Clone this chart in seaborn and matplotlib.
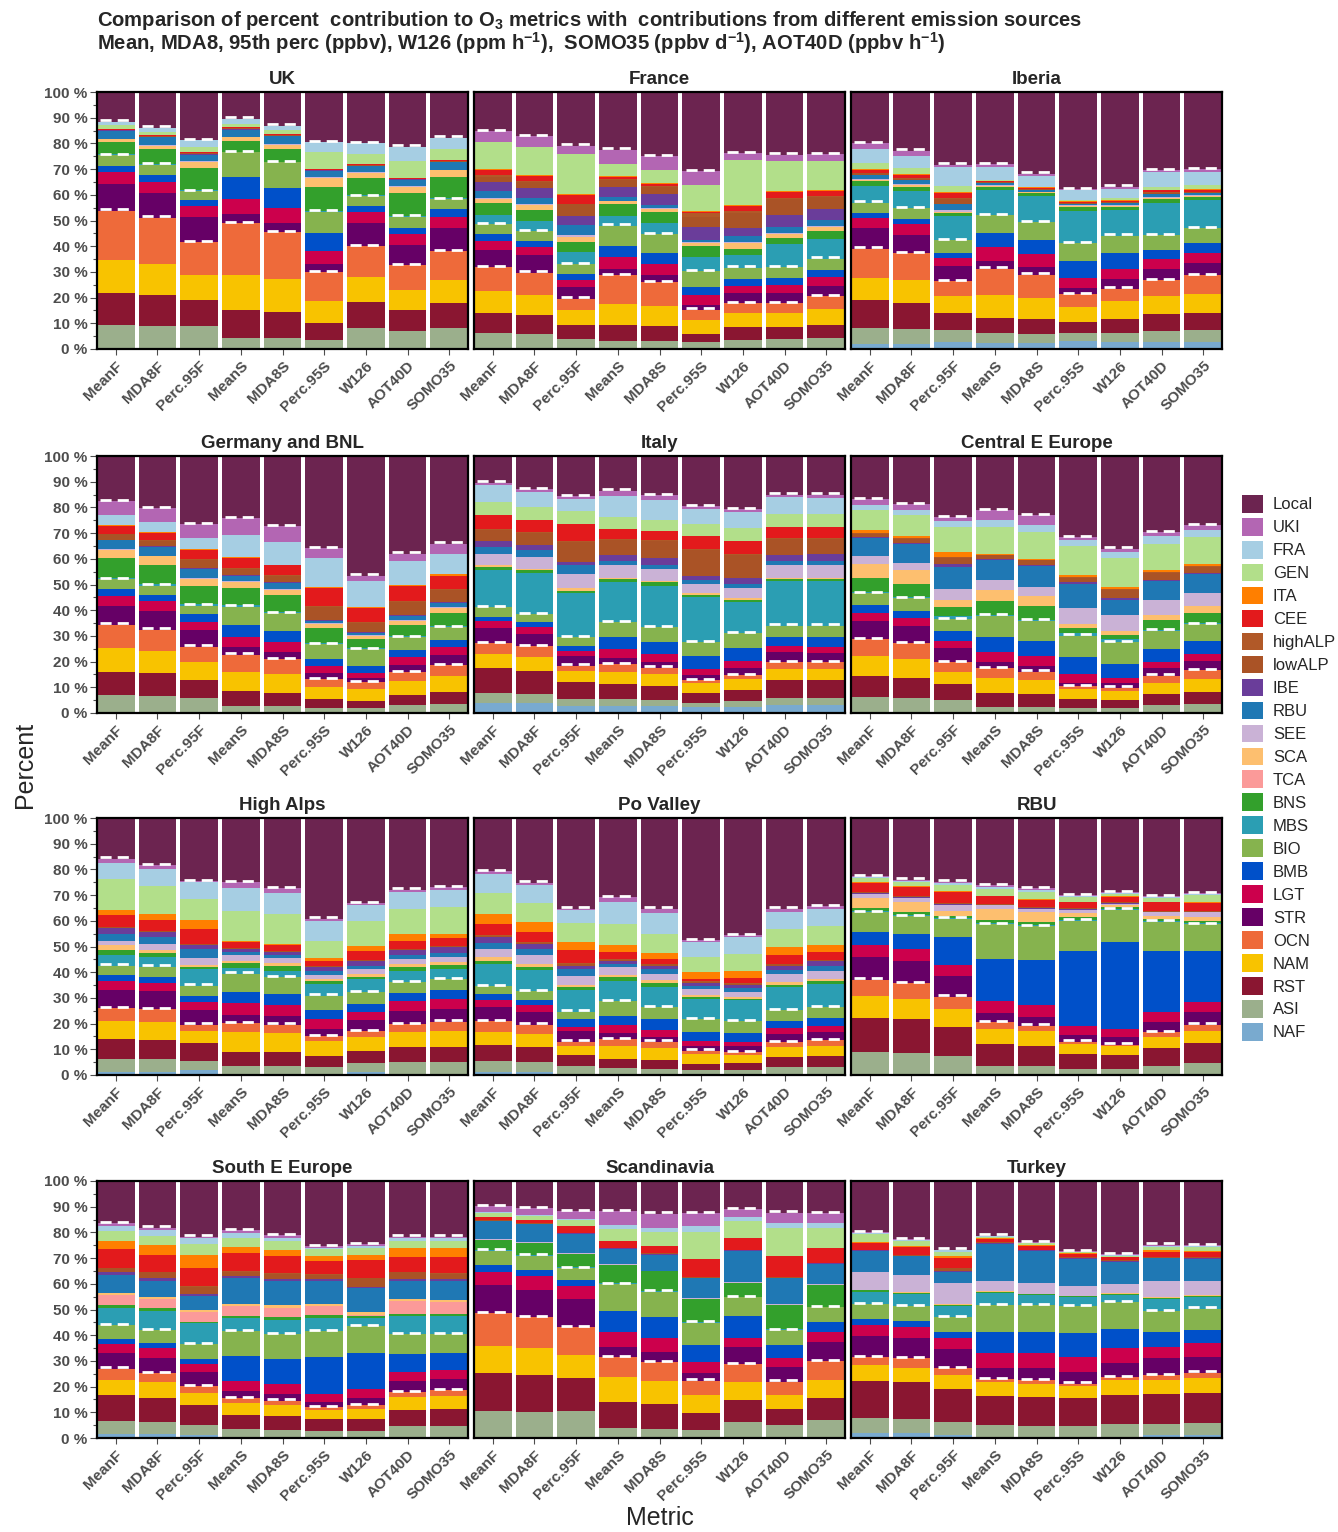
import numpy as np
import pandas as pd
import matplotlib
matplotlib.use("Agg")
import matplotlib.pyplot as plt
from matplotlib.patches import Patch
from matplotlib.ticker import MultipleLocator
import seaborn as sns

metrics = ["MeanF", "MDA8F", "Perc.95F", "MeanS", "MDA8S", "Perc.95S", "W126", "AOT40D", "SOMO35"]

# Emission sources from the bottom of each stack upwards; "Local" fills the rest up to 100 %
sources = ["NAF", "ASI", "RST", "NAM", "OCN", "STR", "LGT", "BMB", "BIO", "MBS", "BNS",
           "TCA", "SCA", "SEE", "RBU", "IBE", "lowALP", "highALP", "CEE", "ITA", "GEN", "FRA", "UKI"]

# One row per metric, one column per source (percent contribution)
uk = [
    [0, 9.4, 12.5, 12.9, 19.0, 10.3, 4.7, 2.5, 4.2, 0.3, 4.6, 0, 1.3, 0.2, 3.0, 0.2, 0.2, 0, 0.3, 0, 1.4, 1.5, 0],
    [0, 8.9, 12.0, 12.3, 17.9, 9.5, 4.5, 2.7, 3.9, 0.3, 5.8, 0, 1.3, 0.2, 3.1, 0.2, 0.2, 0, 0.3, 0, 1.4, 1.6, 0],
    [0, 8.9, 10.3, 9.5, 13.0, 9.8, 4.3, 2.2, 3.5, 0.3, 8.6, 0, 2.4, 0.3, 2.5, 0.3, 0.2, 0, 0.4, 0, 2.0, 2.8, 0],
    [0, 4.2, 11.1, 13.4, 20.2, 3.6, 5.8, 8.5, 9.7, 0.3, 4.0, 0, 1.6, 0.2, 2.8, 0.2, 0.2, 0, 0.4, 0, 1.2, 2.2, 0],
    [0, 4.2, 10.1, 13.1, 18.2, 3.6, 5.8, 7.8, 9.8, 0.3, 4.9, 0, 1.7, 0.2, 3.1, 0.2, 0.2, 0, 0.3, 0, 1.6, 1.8, 0],
    [0, 3.5, 6.7, 8.3, 11.5, 3.2, 5.0, 7.0, 8.3, 0.3, 9.2, 0, 3.5, 0.4, 2.5, 0.2, 0.2, 0, 0.3, 0, 6.6, 3.9, 0],
    [0, 8.1, 10.2, 9.7, 12.0, 9.2, 4.3, 2.3, 3.8, 0.3, 6.6, 0, 1.9, 0.3, 2.4, 0.2, 0.2, 0, 0.3, 0, 4.2, 4.1, 0],
    [0, 6.9, 8.4, 7.5, 9.8, 7.8, 4.3, 2.5, 4.3, 0.3, 8.8, 0, 2.6, 0.3, 2.3, 0.2, 0.2, 0, 0.5, 0, 6.4, 5.6, 0],
    [0, 8.1, 9.9, 8.7, 11.5, 8.7, 4.6, 2.9, 3.9, 0.3, 8.5, 0, 2.4, 0.3, 2.9, 0.2, 0.2, 0, 0.5, 0, 4.3, 4.3, 0],
]

france = [
    [0.2, 5.9, 8.0, 8.3, 9.5, 6.8, 3.4, 2.6, 3.9, 3.6, 4.5, 0, 1.6, 0.3, 2.9, 3.5, 2.1, 0.5, 2.2, 0.4, 10.2, 0, 4.3],
    [0.2, 5.7, 7.5, 7.7, 8.6, 6.8, 3.3, 2.2, 3.9, 3.9, 4.3, 0, 2.0, 0.3, 2.5, 3.7, 2.5, 0.3, 2.1, 0.3, 10.8, 0, 4.2],
    [0.2, 3.7, 5.6, 5.5, 4.6, 4.5, 2.6, 2.6, 3.7, 4.8, 3.9, 0, 2.0, 0.5, 4.0, 3.6, 4.5, 0.3, 3.4, 0.4, 15.6, 0, 3.1],
    [0.2, 3.1, 6.1, 8.2, 11.1, 2.6, 4.6, 4.3, 7.8, 3.8, 4.7, 0, 0.9, 0.3, 1.6, 3.9, 2.6, 0.4, 0.9, 0.4, 4.5, 0, 5.6],
    [0.2, 3.1, 5.6, 7.8, 9.4, 2.6, 4.3, 4.4, 7.3, 4.2, 4.6, 0, 0.9, 0.3, 1.4, 4.3, 2.8, 0.4, 0.7, 0.4, 4.8, 0, 5.5],
    [0.2, 2.4, 3.3, 5.2, 4.2, 2.0, 3.6, 3.2, 6.1, 5.7, 4.1, 0, 1.3, 0.5, 0.6, 5.2, 3.9, 1.3, 0.5, 0.3, 10.2, 0, 5.3],
    [0.2, 3.3, 5.0, 5.6, 3.8, 4.0, 2.5, 2.8, 4.5, 4.9, 2.5, 0, 2.0, 0.5, 2.3, 3.0, 6.2, 0.5, 2.1, 0.5, 17.5, 0, 2.6],
    [0.2, 3.5, 5.0, 5.4, 3.8, 4.0, 2.9, 2.8, 4.3, 8.9, 2.5, 0, 1.6, 0.4, 2.3, 4.6, 6.1, 0.4, 2.2, 0.4, 12.0, 0, 2.3],
    [0.2, 4.1, 5.2, 6.1, 4.9, 4.0, 3.5, 2.9, 4.3, 7.5, 3.2, 0, 1.6, 0.4, 2.2, 4.2, 5.0, 0.4, 1.8, 0.4, 11.1, 0, 2.9],
]

iberia = [
    [2.0, 6.2, 10.7, 8.9, 11.3, 7.8, 3.9, 2.0, 4.2, 6.5, 1.7, 0, 0.5, 0.5, 1.6, 0, 0.5, 0.3, 1.2, 0.3, 2.3, 5.4, 2.4],
    [1.9, 5.9, 10.2, 8.7, 10.5, 7.1, 4.2, 2.1, 4.2, 6.7, 1.7, 0, 0.5, 0.5, 1.6, 0, 0.5, 0.3, 1.2, 0.3, 2.3, 4.6, 2.2],
    [2.6, 4.8, 6.7, 6.4, 5.8, 5.9, 3.4, 1.9, 4.9, 9.5, 0.9, 0, 0.6, 0.5, 2.6, 0, 1.8, 0.3, 2.0, 0.5, 2.4, 7.3, 0.9],
    [2.2, 3.9, 6.0, 9.0, 10.2, 2.9, 5.3, 5.5, 7.2, 9.7, 1.3, 0, 0.3, 0.3, 0.7, 0, 0.3, 0.2, 0.3, 0.2, 0.3, 5.2, 0.9],
    [2.2, 3.7, 5.6, 8.4, 9.0, 3.0, 4.9, 5.6, 7.1, 10.1, 1.0, 0, 0.3, 0.3, 0.7, 0, 0.3, 0.2, 0.3, 0.2, 0.3, 4.0, 1.0],
    [3.3, 3.0, 4.1, 5.9, 5.0, 2.6, 3.9, 6.4, 7.1, 12.4, 1.7, 0, 0.3, 0.3, 0.5, 0, 0.3, 0.2, 0.3, 0.2, 0.3, 3.9, 0.6],
    [2.6, 3.5, 5.6, 6.8, 5.0, 3.6, 3.9, 6.2, 6.9, 10.0, 1.3, 0, 0.3, 0.3, 0.7, 0, 0.4, 0.2, 0.4, 0.2, 0.7, 3.7, 0.9],
    [2.9, 4.0, 6.8, 6.8, 6.2, 4.6, 3.6, 3.8, 5.6, 12.7, 1.3, 0, 0.4, 0.4, 1.2, 0, 0.4, 0.2, 0.8, 0.3, 1.2, 5.6, 0.9],
    [2.9, 4.3, 6.9, 7.2, 7.4, 4.8, 4.0, 3.8, 5.6, 11.1, 1.1, 0, 0.4, 0.4, 0.7, 0, 0.4, 0.2, 0.8, 0.3, 1.5, 5.2, 0.9],
]

germany_bnl = [
    [0, 6.9, 9.1, 9.1, 9.3, 7.4, 3.6, 2.9, 3.9, 0.5, 7.6, 0, 3.2, 0.3, 3.4, 0.3, 2.0, 0.3, 2.9, 0.3, 0, 4.0, 5.4],
    [0, 6.6, 8.8, 8.8, 8.2, 7.4, 3.6, 2.7, 3.5, 0.5, 7.6, 0, 3.2, 0.3, 3.4, 0.3, 2.0, 0.3, 2.9, 0.3, 0, 3.9, 5.3],
    [0, 6.0, 7.0, 6.9, 5.9, 6.5, 3.0, 3.2, 3.3, 0.5, 7.0, 0, 2.9, 0.4, 3.5, 0.5, 2.8, 0.4, 3.5, 0.4, 0, 4.5, 5.2],
    [0, 2.7, 5.9, 7.5, 6.6, 2.8, 3.9, 4.8, 7.2, 0.5, 6.7, 0, 2.3, 0.4, 2.0, 0.4, 2.4, 0.3, 3.9, 0.3, 0, 8.5, 6.6],
    [0, 2.7, 5.2, 7.2, 5.9, 2.6, 3.9, 4.5, 6.8, 0.5, 6.8, 0, 1.9, 0.4, 2.1, 0.4, 2.6, 0.3, 3.6, 0.3, 0, 8.8, 6.2],
    [0, 2.1, 3.2, 5.0, 2.9, 2.2, 2.7, 3.1, 5.6, 0.5, 5.8, 0, 1.5, 0.4, 0.9, 0.4, 5.1, 0.4, 7.0, 0.4, 0, 11.1, 3.8],
    [0, 1.8, 2.9, 4.8, 2.6, 1.7, 1.6, 3.0, 6.5, 0.5, 3.4, 0, 1.3, 0.4, 0.6, 0.4, 3.6, 0.4, 5.5, 0.4, 0, 9.8, 2.3],
    [0, 3.0, 3.9, 5.6, 3.3, 2.8, 3.0, 2.9, 4.9, 0.5, 4.3, 0, 1.7, 0.4, 1.6, 0.4, 4.8, 0.4, 6.1, 0.4, 0, 9.0, 3.0],
    [0, 3.6, 4.7, 6.2, 4.1, 3.9, 3.0, 3.0, 4.8, 0.5, 5.1, 0, 2.0, 0.4, 1.4, 0.4, 4.8, 0.4, 5.2, 0.4, 0, 8.1, 3.9],
]

italy = [
    [4.0, 3.9, 9.5, 5.5, 4.3, 5.7, 2.8, 1.5, 3.9, 14.4, 1.3, 0, 0.6, 4.6, 2.6, 2.3, 4.2, 0.4, 5.5, 0, 5.2, 6.5, 0.9],
    [3.8, 3.5, 9.1, 5.2, 4.3, 4.8, 2.6, 2.0, 3.2, 15.9, 1.1, 0, 0.5, 4.7, 2.6, 1.9, 4.8, 0.4, 4.6, 0, 5.1, 5.8, 1.1],
    [2.7, 2.6, 6.9, 4.2, 2.0, 3.6, 2.2, 1.7, 3.5, 17.2, 0.8, 0, 1.3, 5.5, 3.2, 1.3, 7.8, 0.5, 6.4, 0, 5.2, 4.7, 1.1],
    [2.7, 2.6, 5.9, 4.8, 3.0, 2.4, 3.5, 4.5, 5.9, 15.6, 1.3, 0, 0.5, 4.7, 1.6, 2.3, 6.1, 0.4, 3.9, 0, 4.6, 8.2, 2.0],
    [2.7, 2.4, 5.4, 4.6, 2.6, 2.0, 3.2, 4.6, 5.8, 16.3, 1.3, 0, 0.5, 4.7, 1.3, 2.9, 6.6, 0.4, 3.4, 0, 4.3, 7.8, 2.0],
    [2.3, 1.7, 3.9, 3.7, 1.2, 1.9, 2.4, 5.2, 5.2, 17.6, 0.9, 0, 0.5, 3.8, 1.5, 1.7, 10.0, 0.5, 4.8, 0, 4.9, 5.5, 1.3],
    [2.3, 2.4, 4.2, 4.3, 1.6, 2.9, 2.6, 4.8, 5.9, 12.1, 1.0, 0, 0.5, 4.1, 1.6, 2.3, 8.9, 0.5, 4.9, 0, 5.0, 6.5, 1.0],
    [3.0, 3.0, 6.8, 4.3, 2.8, 3.7, 2.6, 3.2, 4.6, 17.2, 1.0, 0, 0.5, 4.7, 1.7, 2.2, 6.5, 0.4, 4.2, 0, 4.9, 6.6, 1.1],
    [3.0, 3.0, 6.8, 4.3, 2.8, 3.3, 2.6, 3.6, 4.6, 17.2, 1.0, 0, 0.5, 4.7, 1.7, 2.6, 6.1, 0.4, 4.2, 0, 4.9, 6.4, 1.3],
]

central_e_europe = [
    [0, 6.4, 8.1, 7.5, 6.8, 6.9, 3.2, 3.2, 4.5, 0.4, 5.5, 0, 5.6, 2.8, 7.3, 0.4, 1.2, 0.3, 0, 1.0, 7.8, 2.1, 2.2],
    [0, 6.0, 7.8, 7.2, 6.1, 6.6, 3.1, 3.0, 4.9, 0.4, 5.2, 0, 5.2, 2.8, 7.3, 0.4, 1.8, 0.3, 0, 0.7, 8.2, 1.9, 2.4],
    [0, 4.9, 6.3, 4.9, 3.6, 5.4, 2.8, 4.1, 4.6, 1.3, 3.2, 0, 2.9, 4.3, 8.5, 1.3, 2.3, 0.3, 0, 1.9, 9.8, 2.3, 1.6],
    [0, 2.5, 5.2, 6.1, 3.6, 2.3, 3.9, 5.8, 8.5, 0.4, 5.2, 0, 4.2, 3.9, 7.8, 0.4, 1.5, 0.3, 0, 0.4, 10.4, 2.6, 3.8],
    [0, 2.5, 4.8, 5.5, 3.3, 2.3, 3.9, 5.6, 8.0, 0.4, 5.2, 0, 4.2, 3.5, 8.0, 0.4, 1.8, 0.3, 0, 0.3, 10.4, 2.6, 3.9],
    [0, 2.1, 3.2, 3.9, 1.3, 1.3, 3.3, 6.5, 8.5, 1.0, 2.0, 0, 1.5, 6.3, 9.4, 0.5, 1.8, 0.3, 0, 0.9, 11.1, 2.6, 1.0],
    [0, 1.8, 3.1, 3.7, 1.3, 1.9, 2.0, 5.2, 8.5, 1.3, 1.7, 0, 1.5, 6.2, 5.9, 0.5, 3.3, 0.4, 0, 0.7, 11.4, 2.2, 1.3],
    [0, 3.1, 4.2, 4.5, 2.7, 2.9, 2.5, 5.0, 7.1, 0.4, 3.8, 0, 2.1, 5.5, 7.4, 0.4, 2.8, 0.3, 0, 1.1, 10.0, 2.9, 1.6],
    [0, 3.4, 4.9, 5.1, 3.3, 3.4, 2.8, 5.0, 6.7, 0.4, 3.8, 0, 3.0, 4.8, 7.6, 0.4, 2.4, 0.3, 0, 0.8, 10.4, 2.6, 1.9],
]

high_alps = [
    [1.3, 4.9, 7.8, 7.2, 4.8, 7.1, 3.4, 2.5, 3.6, 4.2, 2.0, 0, 1.6, 1.9, 2.6, 2.4, 0.4, 0, 4.4, 2.2, 12.1, 6.2, 1.6],
    [1.3, 4.9, 7.4, 7.2, 4.7, 7.0, 3.3, 2.5, 3.9, 3.6, 1.7, 0, 1.3, 2.1, 2.7, 2.2, 0.4, 0, 4.3, 2.2, 10.8, 6.5, 1.6],
    [1.9, 3.7, 6.7, 5.0, 2.3, 5.5, 3.2, 2.6, 3.9, 6.5, 0.6, 0, 1.0, 2.6, 3.6, 1.5, 0.5, 0, 5.8, 3.6, 7.8, 6.8, 0.4],
    [0.3, 3.3, 5.5, 7.5, 3.5, 3.4, 4.6, 4.1, 7.2, 2.2, 2.0, 0, 0.9, 2.0, 1.3, 1.3, 0.4, 0, 2.2, 0.5, 11.8, 8.7, 2.4],
    [0.3, 3.3, 5.2, 7.4, 3.4, 3.3, 4.5, 4.2, 6.5, 2.5, 2.0, 0, 1.0, 1.9, 1.0, 1.3, 0.4, 0, 2.2, 0.5, 11.9, 8.0, 1.9],
    [0.2, 3.0, 4.3, 5.9, 1.7, 2.8, 3.9, 3.3, 5.8, 4.6, 0.9, 0, 1.0, 1.6, 1.3, 1.6, 0.4, 0, 2.2, 1.0, 6.8, 7.8, 0.7],
    [1.0, 3.7, 4.8, 5.2, 2.3, 4.4, 3.0, 3.3, 4.5, 5.2, 0.7, 0, 1.3, 1.9, 1.3, 1.6, 0.4, 0, 3.8, 1.7, 9.8, 6.3, 0.8],
    [0.3, 4.9, 5.6, 5.8, 3.3, 4.9, 3.9, 3.1, 4.3, 4.5, 1.3, 0, 1.3, 2.0, 1.6, 2.0, 0.4, 0, 3.1, 2.4, 10.0, 6.5, 0.9],
    [0.3, 4.9, 5.8, 6.3, 3.5, 4.9, 3.9, 3.3, 4.5, 3.9, 1.6, 0, 1.0, 1.9, 1.7, 2.2, 0.4, 0, 3.1, 1.7, 10.4, 6.5, 1.3],
]

po_valley = [
    [1.3, 4.3, 6.1, 5.2, 4.0, 5.5, 2.6, 2.6, 2.9, 8.7, 1.3, 0, 1.3, 3.3, 2.3, 2.2, 0.4, 0.4, 4.4, 3.9, 8.1, 7.3, 1.1],
    [1.2, 3.7, 5.9, 5.2, 3.6, 5.1, 2.6, 1.9, 3.3, 8.5, 1.2, 0, 1.0, 3.3, 2.6, 1.9, 0.4, 0.4, 4.0, 3.7, 7.5, 6.8, 1.0],
    [0.5, 2.9, 4.4, 3.6, 1.6, 4.3, 1.5, 2.8, 3.1, 8.4, 1.1, 0, 0.9, 3.6, 2.6, 1.3, 0.5, 0.4, 5.2, 3.0, 7.4, 5.2, 0.4],
    [0.3, 2.3, 3.6, 5.0, 2.8, 2.4, 3.2, 3.5, 5.5, 7.8, 1.7, 0, 1.0, 2.8, 1.3, 1.3, 0.4, 0.3, 2.6, 2.6, 8.2, 8.7, 1.9],
    [0.3, 2.0, 3.5, 4.7, 2.5, 1.7, 2.8, 4.1, 4.8, 7.8, 1.5, 0, 1.1, 2.6, 1.9, 1.3, 0.4, 0.3, 1.9, 2.2, 7.5, 8.2, 1.6],
    [0.2, 1.7, 2.4, 3.9, 1.3, 1.9, 2.0, 3.5, 4.9, 7.8, 0.7, 0, 0.9, 2.3, 1.3, 1.0, 0.4, 0.3, 0.9, 2.6, 5.8, 6.1, 0.7],
    [0.2, 1.9, 2.6, 3.2, 0.9, 2.4, 1.5, 3.5, 4.7, 8.1, 0.6, 0, 0.9, 1.7, 1.7, 1.2, 0.4, 0.3, 1.9, 2.9, 6.5, 6.5, 0.7],
    [0.3, 2.7, 3.9, 3.9, 1.9, 3.3, 2.2, 2.7, 4.2, 9.1, 1.0, 0, 0.9, 3.3, 1.6, 1.6, 0.4, 0.3, 3.2, 3.5, 6.9, 6.7, 1.1],
    [0.3, 2.7, 4.3, 4.1, 2.2, 3.3, 2.3, 3.0, 4.2, 9.1, 1.0, 0, 0.9, 3.2, 2.0, 1.6, 0.4, 0.3, 2.9, 2.8, 7.3, 6.8, 1.0],
]

rbu = [
    [0, 8.8, 13.4, 8.4, 6.5, 8.7, 4.8, 5.2, 7.6, 0.3, 1.2, 0, 3.9, 1.7, 0, 0.3, 0.4, 0, 3.5, 0.3, 1.6, 0.5, 0.4],
    [0, 8.4, 13.2, 8.0, 6.2, 8.7, 4.6, 5.6, 7.1, 0.3, 1.5, 0, 3.9, 1.5, 0, 0.3, 0.4, 0, 3.4, 0.3, 1.7, 0.5, 0.4],
    [0, 7.5, 11.1, 6.9, 5.0, 8.2, 4.2, 10.7, 7.2, 0.3, 0.7, 0, 2.2, 2.2, 0, 0.3, 0.5, 0, 4.2, 0.5, 2.3, 0.8, 0.4],
    [0, 3.6, 8.5, 5.8, 2.6, 3.7, 4.5, 16.5, 13.6, 0.3, 1.4, 0, 3.9, 1.6, 0, 0.3, 0.4, 0, 2.8, 0.3, 2.4, 1.0, 0.8],
    [0, 3.4, 8.0, 5.6, 2.2, 3.5, 4.6, 17.6, 13.0, 0.3, 1.5, 0, 3.6, 1.3, 0, 0.3, 0.4, 0, 2.7, 0.3, 3.0, 0.8, 0.7],
    [0, 2.3, 5.9, 3.9, 0.9, 2.6, 3.6, 28.9, 12.0, 0.3, 1.0, 0, 1.7, 1.0, 0, 0.3, 0.4, 0, 2.4, 0.3, 1.8, 0.4, 0.4],
    [0, 2.3, 5.5, 3.4, 0.6, 2.9, 3.2, 33.8, 12.6, 0.3, 0.7, 0, 0.9, 0.5, 0, 0.3, 0.3, 0, 2.0, 0.3, 1.0, 0.3, 0.3],
    [0, 3.6, 6.8, 4.5, 1.7, 4.2, 3.6, 24.0, 11.3, 0.3, 0.8, 0, 1.2, 1.3, 0, 0.3, 0.4, 0, 3.2, 0.3, 1.4, 0.4, 0.4],
    [0, 4.7, 7.6, 5.0, 2.3, 4.8, 3.9, 20.1, 10.4, 0.3, 1.0, 0, 1.4, 1.8, 0, 0.3, 0.4, 0, 3.1, 0.3, 2.5, 0.5, 0.4],
]

south_e_europe = [
    [1.7, 4.9, 10.0, 5.9, 4.5, 6.1, 3.4, 2.2, 5.2, 6.7, 1.3, 3.7, 0.9, 0, 6.9, 1.0, 1.6, 0.3, 7.2, 3.3, 3.7, 2.1, 0.9],
    [1.6, 4.6, 9.5, 5.9, 3.7, 6.0, 3.8, 1.9, 4.9, 7.5, 1.0, 3.5, 0.8, 0, 6.5, 1.1, 2.1, 0.3, 6.7, 3.7, 3.6, 2.2, 0.9],
    [1.3, 3.6, 8.1, 4.7, 2.4, 5.6, 2.9, 2.3, 5.6, 8.3, 0.4, 3.9, 0.6, 0, 5.6, 0.9, 2.6, 0.3, 7.1, 5.0, 4.3, 2.2, 0.6],
    [0.3, 3.1, 5.7, 4.5, 2.0, 2.7, 3.8, 9.7, 9.8, 4.9, 1.0, 3.9, 0.9, 0, 10.0, 0.8, 1.6, 0.3, 6.8, 2.6, 3.5, 1.7, 1.3],
    [0.3, 2.9, 5.2, 4.6, 1.5, 2.8, 3.6, 10.0, 9.4, 5.5, 1.1, 3.7, 1.1, 0, 9.3, 0.8, 2.1, 0.3, 6.7, 2.2, 3.7, 1.1, 1.1],
    [0.3, 2.4, 4.8, 3.5, 1.1, 1.9, 3.3, 14.3, 10.0, 5.2, 1.0, 3.6, 0.9, 0, 8.7, 0.8, 1.8, 0.3, 4.9, 2.1, 2.6, 0.6, 0.6],
    [0.3, 2.4, 4.8, 3.9, 1.3, 2.9, 3.4, 13.9, 10.7, 3.2, 0.7, 0.5, 1.1, 0, 9.3, 0.5, 3.2, 0.3, 6.8, 2.0, 2.8, 0.9, 0.6],
    [0.3, 4.2, 6.5, 5.0, 1.9, 4.2, 3.6, 6.8, 7.8, 7.2, 0.7, 5.0, 0.8, 0, 7.0, 0.8, 2.6, 0.3, 5.8, 3.3, 3.0, 0.9, 0.6],
    [0.3, 4.4, 6.7, 4.8, 2.4, 4.3, 3.5, 6.5, 7.4, 7.2, 0.7, 4.8, 0.6, 0, 7.4, 0.8, 2.2, 0.3, 6.2, 3.3, 3.0, 0.9, 0.6],
]

scandinavia = [
    [0, 10.5, 14.6, 10.8, 12.7, 10.8, 5.1, 2.9, 5.5, 0.3, 4.0, 0, 0, 0.2, 7.0, 0.2, 0.2, 0, 1.3, 0, 1.5, 0.3, 2.3],
    [0, 10.2, 14.3, 10.7, 11.7, 10.5, 5.5, 2.6, 5.5, 0.3, 4.6, 0, 0, 0.2, 7.0, 0.2, 0.2, 0, 1.5, 0, 1.5, 0.3, 2.6],
    [0, 10.4, 12.8, 9.1, 10.7, 11.2, 5.0, 2.4, 4.5, 0.3, 5.2, 0, 0, 0.3, 7.6, 0.2, 0.2, 0, 2.4, 0, 2.6, 0.4, 3.1],
    [0, 4.0, 10.1, 9.5, 8.0, 3.9, 5.6, 8.4, 10.4, 0.3, 7.2, 0, 0, 0.3, 6.0, 0.2, 0.2, 0, 2.6, 0, 4.7, 1.3, 5.5],
    [0, 3.6, 9.8, 8.7, 7.3, 3.9, 5.5, 8.1, 10.1, 0.3, 7.5, 0, 0, 0.3, 6.3, 0.2, 0.2, 0, 3.1, 0, 5.2, 1.6, 5.6],
    [0, 3.0, 6.9, 7.0, 5.4, 2.8, 4.3, 6.8, 8.7, 0.3, 8.8, 0, 0, 0.3, 7.9, 0.2, 0.2, 0, 7.2, 0, 10.4, 2.2, 5.2],
    [0, 6.3, 8.4, 7.2, 6.7, 6.9, 3.6, 8.2, 7.4, 0.3, 5.3, 0, 0, 0.3, 12.3, 0.2, 0.2, 0, 4.4, 0, 6.9, 1.5, 3.0],
    [0, 4.9, 6.3, 5.7, 5.0, 5.8, 3.3, 5.2, 5.9, 0.3, 9.4, 0, 0, 0.3, 10.1, 0.2, 0.2, 0, 8.2, 0, 10.8, 2.2, 3.9],
    [0, 6.9, 8.5, 7.1, 7.4, 7.3, 4.2, 3.9, 5.5, 0.3, 8.5, 0, 0, 0.3, 7.9, 0.2, 0.2, 0, 5.7, 0, 7.8, 2.0, 3.9],
]

turkey = [
    [2.1, 5.5, 14.7, 6.1, 3.2, 8.1, 4.3, 2.2, 5.9, 4.9, 0.4, 0, 0.3, 6.9, 8.1, 0.3, 0.3, 0, 2.6, 0.5, 3.0, 0.5, 0.3],
    [2.1, 5.2, 14.3, 5.7, 3.7, 7.8, 4.3, 2.5, 5.6, 4.9, 0.4, 0, 0.3, 6.7, 7.2, 0.3, 0.3, 0, 2.9, 0.6, 1.7, 0.5, 0.3],
    [1.3, 5.0, 12.6, 5.6, 2.8, 7.3, 4.2, 2.3, 5.8, 4.5, 0.4, 0, 0.4, 8.1, 4.3, 0.4, 1.1, 0, 4.0, 0.7, 1.6, 0.6, 0.3],
    [0.3, 4.6, 11.4, 5.3, 1.3, 4.4, 5.6, 8.2, 10.7, 4.6, 0.4, 0, 0.3, 4.1, 14.3, 0.3, 0.3, 0, 1.3, 0.3, 0.5, 0.3, 0.2],
    [0.3, 4.4, 11.3, 5.2, 1.3, 4.6, 5.8, 8.2, 10.5, 3.9, 0.4, 0, 0.3, 4.1, 12.4, 0.3, 0.3, 0, 1.6, 0.3, 0.5, 0.3, 0.2],
    [0.3, 4.4, 10.7, 4.9, 0.9, 4.6, 5.8, 9.2, 10.6, 3.3, 0.4, 0, 0.3, 3.8, 10.6, 0.3, 0.3, 0, 1.1, 0.3, 0.4, 0.2, 0.2],
    [0.3, 5.0, 11.6, 5.6, 1.3, 5.2, 5.9, 7.5, 10.5, 2.8, 0.4, 0, 0.3, 3.6, 8.5, 0.3, 0.3, 0, 1.2, 0.3, 0.4, 0.3, 0.2],
    [1.3, 4.3, 11.7, 5.2, 2.0, 6.5, 4.5, 5.6, 8.4, 4.7, 0.4, 0, 0.4, 6.0, 8.9, 0.3, 0.4, 0, 1.9, 0.5, 1.5, 0.4, 0.3],
    [1.3, 4.6, 11.8, 5.7, 2.0, 6.2, 5.2, 5.3, 8.2, 4.5, 0.4, 0, 0.4, 5.3, 8.8, 0.3, 0.4, 0, 1.9, 0.5, 1.5, 0.4, 0.3],
]

regions = [
    ("UK", uk), ("France", france), ("Iberia", iberia),
    ("Germany and BNL", germany_bnl), ("Italy", italy), ("Central E Europe", central_e_europe),
    ("High Alps", high_alps), ("Po Valley", po_valley), ("RBU", rbu),
    ("South E Europe", south_e_europe), ("Scandinavia", scandinavia), ("Turkey", turkey),
]

palette = {
    "Local": "#6C2450", "UKI": "#B366B3", "FRA": "#A6CEE3", "GEN": "#B2DF8A",
    "ITA": "#FF7F00", "CEE": "#E31A1C", "highALP": "#B15928", "lowALP": "#AA5326",
    "IBE": "#6A3D9A", "RBU": "#1F78B4", "SEE": "#CAB2D6", "SCA": "#FDBF6F",
    "TCA": "#FB9A99", "BNS": "#33A02C", "MBS": "#2B9EB3", "BIO": "#86B34E",
    "BMB": "#0050C9", "LGT": "#CC004C", "STR": "#660066", "OCN": "#EE6A3A",
    "NAM": "#F8C300", "RST": "#8A1631", "ASI": "#9BAF8C", "NAF": "#79AACF",
}
layers = sources + ["Local"]

sns.set_style("white")
plt.rcParams["font.family"] = ["Liberation Sans", "DejaVu Sans"]
plt.rcParams["mathtext.fontset"] = "custom"
plt.rcParams["mathtext.rm"] = "Liberation Sans:bold"
plt.rcParams["mathtext.bf"] = "Liberation Sans:bold"

W, H = 1338, 1532
fig = plt.figure(figsize=(W / 100, H / 100), dpi=100)

col_left = [97, 474, 851]
row_top = [92, 456, 818, 1181]
pw, ph = 371, 257
tick_grey = "#4D4D4D"

for k, (name, rows) in enumerate(regions):
    r, c = divmod(k, 3)
    ax = fig.add_axes([col_left[c] / W, 1 - (row_top[r] + ph) / H, pw / W, ph / H])

    vals = np.array(rows, dtype=float)
    local = 100.0 - vals.sum(axis=1)
    full = np.column_stack([vals, local])
    cum = full.cumsum(axis=1)
    df = pd.DataFrame(cum, columns=layers)
    df["metric"] = metrics

    # Stacked bars: draw cumulative totals from the top layer down
    for j in range(len(layers) - 1, -1, -1):
        sns.barplot(data=df, x="metric", y=layers[j], order=metrics,
                    color=palette[layers[j]], saturation=1, width=0.9,
                    errorbar=None, linewidth=0, ax=ax)

    # Dashed markers at the OCN, BIO and total non-local boundaries
    for src in ("OCN", "BIO", "UKI"):
        level = cum[:, layers.index(src)]
        for i, y in enumerate(level):
            ax.hlines(y + 0.5, i - 0.37, i + 0.37, colors="white",
                      linestyles=(0, (4, 2.2)), linewidth=2.0, zorder=5)

    ax.set_xlim(-0.45, 8.45)
    ax.set_ylim(0, 100)
    ax.set_xlabel("")
    ax.set_ylabel("")
    ax.set_title(name, fontsize=13.5, fontweight="bold", pad=6)

    for sp in ax.spines.values():
        sp.set_visible(True)
        sp.set_color("black")
        sp.set_linewidth(1.6)

    ax.set_xticks(range(len(metrics)))
    ax.set_xticklabels(metrics, rotation=45, ha="right", rotation_mode="anchor",
                       fontsize=11, fontweight="bold", color=tick_grey)
    ax.tick_params(axis="x", length=4, width=0.8, color=tick_grey, pad=3, bottom=True)

    if c == 0:
        ax.set_yticks(range(0, 101, 10))
        ax.set_yticklabels([f"{v} %" for v in range(0, 101, 10)],
                           fontsize=11, fontweight="bold", color=tick_grey)
        ax.yaxis.set_minor_locator(MultipleLocator(5))
        ax.tick_params(axis="y", which="major", length=5, width=0.8, color=tick_grey, pad=2, left=True)
        ax.tick_params(axis="y", which="minor", length=3, width=0.8, color=tick_grey, left=True)
    else:
        ax.set_yticks([])

fig.text(97 / W, 1 - 21 / H,
         "Comparison of percent  contribution to O$_3$ metrics with  contributions from different emission sources",
         fontsize=14.6, fontweight="bold", va="center", ha="left")
fig.text(97 / W, 1 - 43 / H,
         "Mean, MDA8, 95th perc (ppbv), W126 (ppm h$^{-1}$),  SOMO35 (ppbv d$^{-1}$), AOT40D (ppbv h$^{-1}$)",
         fontsize=14.6, fontweight="bold", va="center", ha="left")

fig.text(25 / W, 1 - 765 / H, "Percent", fontsize=18, rotation=90, va="center", ha="center")
fig.text(660 / W, 1 - 1518 / H, "Metric", fontsize=18, va="center", ha="center")

handles = [Patch(facecolor=palette[s], edgecolor="none") for s in layers[::-1]]
fig.legend(handles, layers[::-1], loc="upper left",
           bbox_to_anchor=(1242 / W, 1 - 495 / H), frameon=False,
           fontsize=12, handlelength=1.25, handleheight=1.25,
           labelspacing=0.32, handletextpad=0.6, borderpad=0, borderaxespad=0)

fig.savefig("out.png", dpi=100)
